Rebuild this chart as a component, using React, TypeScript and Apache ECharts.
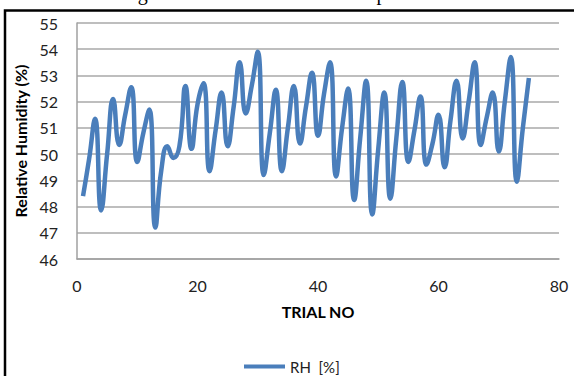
import React, { useEffect, useRef } from "react";
import * as echarts from "echarts";

const trialNo: number[] = Array.from({ length: 75 }, (_, i) => i + 1);
const rhValues: number[] = [
  48.4, 49.8, 51.35, 47.85, 50.0, 52.1, 50.35, 51.5, 52.55, 49.7,
  50.8, 51.7, 47.2, 49.4, 50.3, 49.85, 50.3, 52.6, 50.2, 51.9,
  52.7, 49.35, 50.9, 52.35, 50.3, 51.8, 53.5, 51.55, 52.6, 53.9,
  49.2, 50.8, 52.45, 49.35, 51.0, 52.6, 50.4, 51.8, 53.1, 50.7,
  52.3, 53.5, 49.15, 51.0, 52.5, 48.25, 50.6, 52.8, 47.7, 50.2,
  52.35, 48.3, 50.6, 52.75, 49.7, 50.9, 52.2, 49.6, 50.4, 51.5,
  49.5, 51.3, 52.8, 50.6, 52.0, 53.5, 50.35, 51.4, 52.35, 50.1,
  52.0, 53.7, 48.95, 51.0, 52.9,
];
const seriesName = "RH  [%]";
const xAxisTitle = "TRIAL NO";
const yAxisTitle = "Relative Humidity (%)";
const figureTitle = "Fig. 5: RH and Trial No. at Temperature";

export default function App() {
  const ref = useRef<HTMLDivElement>(null);
  useEffect(() => {
    if (!ref.current) return;
    const chart = echarts.init(ref.current, null, { renderer: "svg" });
    const font = "Lato, 'Noto Sans', sans-serif";
    chart.setOption({
      animation: false,
      backgroundColor: "#ffffff",
      grid: { left: 77, top: 23, width: 482, height: 236, containLabel: false },
      xAxis: {
        type: "value",
        min: 0,
        max: 80,
        interval: 20,
        name: xAxisTitle,
        nameLocation: "middle",
        nameGap: 44,
        nameTextStyle: { fontFamily: font, fontSize: 16, fontWeight: "bold", color: "#000" },
        axisLine: { show: true, lineStyle: { color: "#a0a0a0", width: 1.5 } },
        axisTick: { show: false },
        splitLine: { show: false },
        axisLabel: { fontFamily: font, fontSize: 16, color: "#222", margin: 18 },
      },
      yAxis: {
        type: "value",
        min: 46,
        max: 55,
        interval: 1,
        name: yAxisTitle,
        nameLocation: "middle",
        nameGap: 46,
        nameRotate: 90,
        nameTextStyle: { fontFamily: font, fontSize: 16, fontWeight: "bold", color: "#000" },
        axisLine: { show: true, lineStyle: { color: "#a0a0a0", width: 1.5 } },
        axisTick: { show: false },
        splitLine: { show: true, lineStyle: { color: "#a8a8a8", width: 1.5 } },
        axisLabel: { fontFamily: font, fontSize: 16, color: "#222", margin: 19 },
      },
      legend: {
        show: true,
        left: 239,
        top: 354,
        icon: "rect",
        itemWidth: 41,
        itemHeight: 4,
        data: [seriesName],
        textStyle: { fontFamily: font, fontSize: 15, color: "#222" },
      },
      graphic: [
        {
          type: "text",
          x: 121,
          y: -7,
          style: {
            text: figureTitle,
            font: "20px 'Liberation Serif', 'DejaVu Serif', serif",
            fill: "#000",
            verticalAlign: "middle",
          },
        },
        {
          type: "rect",
          shape: { x: 5, y: 10.5, width: 640, height: 420 },
          style: { fill: "none", stroke: "#000", lineWidth: 2.5 },
        },
      ],
      series: [
        {
          name: seriesName,
          type: "line",
          data: trialNo.map((t, i) => [t, rhValues[i]]),
          smooth: 0.5,
          showSymbol: false,
          symbol: "none",
          lineStyle: { color: "#4a7ebb", width: 4.5 },
          itemStyle: { color: "#4a7ebb" },
        },
      ],
    });
    return () => chart.dispose();
  }, []);
  return (
    <div
      ref={ref}
      style={{ position: "fixed", left: 0, top: 0, width: 574, height: 376 }}
    />
  );
}
